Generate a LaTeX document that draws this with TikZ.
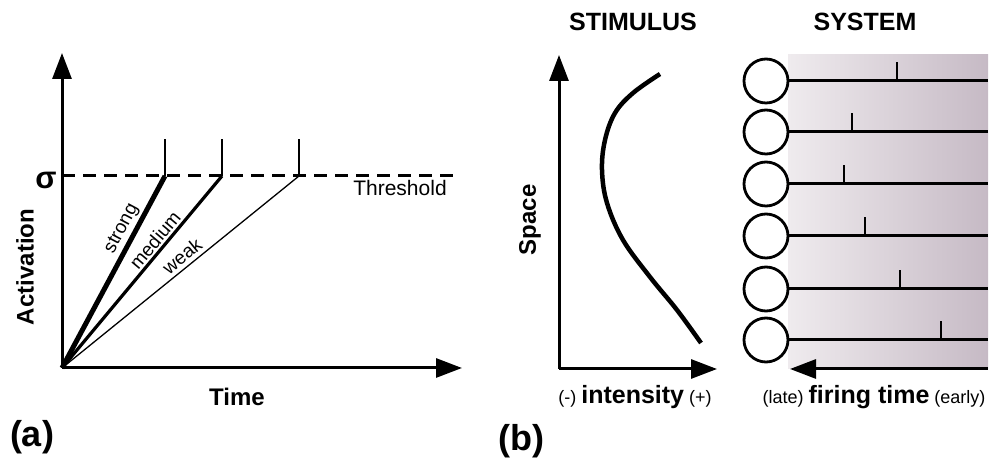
\documentclass[tikz,border=0pt]{standalone}
\usepackage{fontspec}
\setmainfont{Liberation Sans}
\usepackage{tikz}
\usetikzlibrary{arrows.meta,positioning}
\definecolor{shadeL}{HTML}{EFEBEE}
\definecolor{shadeR}{HTML}{C6BAC5}

\begin{document}
\begin{tikzpicture}[x=1pt, y=1pt,
  axis/.style={line width=3pt, -{Triangle[length=26pt,width=19pt]}},
  spike/.style={line width=1.4pt},
  lbl/.style={font=\fontsize{24}{24}\selectfont\bfseries, inner sep=0pt},
  head/.style={font=\fontsize{25}{25}\selectfont\bfseries, inner sep=0pt},
  tag/.style={font=\fontsize{19}{19}\selectfont, inner sep=0pt},
  cell/.style={circle, draw, line width=2.8pt, minimum size=44pt, inner sep=0pt},
  track/.style={line width=3pt}]
  \useasboundingbox (0,0) rectangle (989,460);

  % (a) activation vs time
  \coordinate (O) at (62,92);
  \coordinate (ytip) at (62,407);
  \coordinate (xtip) at (462,92);
  \draw[axis] (O) -- (ytip);
  \draw[axis] (O) -- (xtip);
  \coordinate (th0) at (62,284);
  \coordinate (th1) at (457,284);
  \draw[line width=3pt, dash pattern=on 13pt off 8pt] (th0) -- (th1);
  \coordinate (s) at (165,284);
  \coordinate (m) at (222,284);
  \coordinate (w) at (299,284);
  \draw[line width=5pt] (O) -- (s);
  \draw[line width=3.2pt] (O) -- (m);
  \draw[line width=1.3pt] (O) -- (w);
  \foreach \p in {s,m,w}
    \draw[spike] (\p) -- ++(0,37);
  \node[tag, rotate=62] (strong) at (122,231) {strong};
  \node[tag, rotate=50] (medium) at (155,220) {medium};
  \node[tag, rotate=39] (weak) at (182,204) {weak};
  \node[tag, font=\fontsize{21}{21}\selectfont] (thr) at (400,272) {Threshold};
  \node[inner sep=0pt, font=\fontsize{31}{31}\selectfont\bfseries] (sigma) at (46,280) {σ};
  \node[lbl] (time) at (237,63) {Time};
  \node[lbl, rotate=90] (act) at (25,193) {Activation};
  \node[inner sep=0pt, font=\fontsize{36}{36}\selectfont\bfseries] (a) at (32,23) {(a)};

  % (b) stimulus
  \node[head] (stim) at (633,438) {STIMULUS};
  \node[head] (sys) at (865,438) {SYSTEM};
  \coordinate (O2) at (559,91);
  \coordinate (ytip2) at (559,405);
  \coordinate (xtip2) at (717,91);
  \draw[axis] (O2) -- (ytip2);
  \draw[axis] (O2) -- (xtip2);
  \draw[line width=4.5pt] plot[smooth, tension=0.6] coordinates
    {(660,386) (633,367) (615,347) (605,320) (602,290) (607,257) (623,220) (650,183) (677,150) (701,117)};
  \node[lbl, rotate=90] (space) at (530,240) {Space};
  \node[inner sep=0pt, font=\fontsize{18}{18}\selectfont] (int) at (635,63)
    {(-)\hspace{5pt}{\fontsize{25}{25}\selectfont\bfseries intensity}\hspace{5pt}(+)};
  \node[inner sep=0pt, font=\fontsize{36}{36}\selectfont\bfseries] (b) at (521,19) {(b)};

  % system
  \shade[left color=shadeL, right color=shadeR] (788,91) rectangle (988,405);
  \foreach \i/\y/\t in {1/379/897, 2/328/852, 3/276/844, 4/224/865, 5/171/900, 6/120/941} {
    \node[cell] (n\i) at (766,\y) {};
    \coordinate (e\i) at (988,\y);
    \coordinate (k\i) at (\t,\y);
    \draw[track] (n\i.east) -- (e\i);
    \draw[spike] (k\i) -- ++(0,19);
  }
  \coordinate (fr) at (988,91);
  \coordinate (fl) at (790,91);
  \draw[axis] (fr) -- (fl);
  \node[inner sep=0pt, font=\fontsize{18}{18}\selectfont] (fire) at (874,63)
    {(late)\hspace{5pt}{\fontsize{25}{25}\selectfont\bfseries firing time}\hspace{5pt}(early)};
\end{tikzpicture}
\end{document}
